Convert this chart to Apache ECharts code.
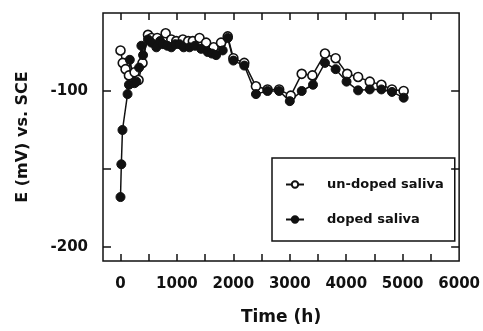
<!DOCTYPE html>
<html>
<head>
<meta charset="utf-8">
<script src="https://cdn.jsdelivr.net/npm/echarts@6/dist/echarts.min.js"></script>
<style>html,body{margin:0;padding:0;background:#fff}#c{width:483px;height:331px}</style>
</head>
<body>
<div id="c"></div>
<script>
var undopedTime = [0, 40, 90, 150, 250, 320, 390, 487, 550, 650, 800, 900, 988, 1105, 1200, 1282, 1400, 1517, 1650, 1782, 1900, 2000, 2193, 2400, 2605, 2811, 3017, 3211, 3400, 3623, 3812, 4017, 4210, 4417, 4623, 4810, 5017];
var undopedE = [-74, -82, -86, -90, -88, -93, -82, -64, -66, -66, -63, -67, -68, -67, -68, -68, -66, -69, -72, -69, -65, -79, -82, -97, -99, -99, -103, -89, -90, -76, -79, -89, -91, -94, -96, -99, -100];
var dopedTime = [0, 15, 35, 125, 150, 165, 250, 282, 330, 370, 400, 487, 547, 635, 700, 752, 830, 900, 970, 1046, 1120, 1223, 1320, 1429, 1546, 1620, 1694, 1811, 1900, 2000, 2193, 2400, 2605, 2811, 3000, 3211, 3411, 3623, 3812, 4005, 4210, 4417, 4623, 4810, 5017];
var dopedE = [-168, -147, -125, -102, -96, -80, -95, -94, -85, -71, -77, -67, -69, -72, -68, -70, -71, -72, -70, -70, -72, -72, -71, -73, -75, -76, -77, -74, -66, -80.5, -83.7, -102, -100, -100, -106.5, -100, -96, -82, -86, -94, -99.6, -99, -99, -100.6, -104.3];
var xLabelValues = [0, 1000, 2000, 3000, 4000, 5000, 6000];
var xAllTicks = [0, 500, 1000, 1500, 2000, 2500, 3000, 3500, 4000, 4500, 5000, 5500];
var yLabelValues = [-200, -100];
var yTickValues = [-200, -150, -100];

function pairs(xs, ys) { return xs.map(function (x, i) { return [x, ys[i]]; }); }

var FONT = 'DejaVu Sans';
var INK = '#111';
var chart = echarts.init(document.getElementById('c'), null, {renderer: 'canvas'});
chart.setOption({
  animation: false,
  backgroundColor: '#fff',
  grid: {left: 103, top: 13, right: 22, bottom: 68, show: true, borderColor: INK, borderWidth: 1.5},
  xAxis: [
    {
      type: 'value', min: -310, max: 6000, position: 'bottom', splitLine: {show: false},
      name: 'Time (h)', nameLocation: 'middle', nameGap: 48,
      nameTextStyle: {fontFamily: FONT, fontSize: 17, fontWeight: 'bold', color: INK},
      axisLine: {show: false, onZero: false},
      axisTick: {show: true, inside: true, length: 7, customValues: xAllTicks, lineStyle: {color: INK, width: 1.5}},
      axisLabel: {show: true, customValues: xLabelValues, margin: 16, fontFamily: FONT, fontSize: 15, fontWeight: 'bold', color: INK,
        formatter: function (v) { return String(v); }}
    },
    {
      type: 'value', min: -310, max: 6000, position: 'top', splitLine: {show: false},
      axisLine: {show: false, onZero: false},
      axisTick: {show: true, inside: true, length: 7, customValues: xAllTicks, lineStyle: {color: INK, width: 1.5}},
      axisLabel: {show: false}
    }
  ],
  yAxis: [
    {
      type: 'value', min: -209, max: -50, position: 'left', splitLine: {show: false},
      name: 'E (mV) vs. SCE', nameLocation: 'middle', nameGap: 72,
      nameTextStyle: {fontFamily: FONT, fontSize: 16, fontWeight: 'bold', color: INK},
      axisLine: {show: false, onZero: false},
      axisTick: {show: true, inside: true, length: 8, customValues: yTickValues, lineStyle: {color: INK, width: 1.5}},
      axisLabel: {show: true, customValues: yLabelValues, margin: 15, fontFamily: FONT, fontSize: 15, fontWeight: 'bold', color: INK,
        formatter: function (v) { return String(v); }}
    },
    {
      type: 'value', min: -209, max: -50, position: 'right', splitLine: {show: false},
      axisLine: {show: false, onZero: false},
      axisTick: {show: true, inside: true, length: 8, customValues: yTickValues, lineStyle: {color: INK, width: 1.5}},
      axisLabel: {show: false}
    }
  ],
  legend: {
    left: 272, top: 158,
    orient: 'vertical',
    padding: [20, 11, 15, 13],
    itemGap: 22,
    itemWidth: 18, itemHeight: 8,
    borderColor: INK, borderWidth: 1.5,
    textStyle: {fontFamily: FONT, fontSize: 13, fontWeight: 'bold', color: INK, padding: [0, 0, 0, 18]},
    data: ['un-doped saliva', 'doped saliva']
  },
  series: [
    {
      name: 'un-doped saliva', type: 'line', xAxisIndex: 0, yAxisIndex: 0,
      data: pairs(undopedTime, undopedE),
      symbol: 'circle', symbolSize: 9, showAllSymbol: true,
      lineStyle: {color: INK, width: 1.5},
      itemStyle: {color: '#fff', borderColor: INK, borderWidth: 1.6}
    },
    {
      name: 'doped saliva', type: 'line', xAxisIndex: 0, yAxisIndex: 0,
      data: pairs(dopedTime, dopedE),
      symbol: 'circle', symbolSize: 9, showAllSymbol: true,
      lineStyle: {color: INK, width: 1.5},
      itemStyle: {color: INK, borderColor: INK, borderWidth: 1}
    }
  ]
});
</script>
</body>
</html>
